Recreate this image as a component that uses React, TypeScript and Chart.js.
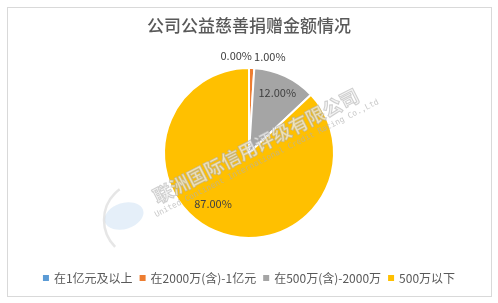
import React, { useEffect, useRef } from "react";
import { Chart, registerables } from "chart.js";

Chart.register(...registerables);

const title = "公司公益慈善捐赠金额情况";
const categories = ["在1亿元及以上", "在2000万(含)-1亿元", "在500万(含)-2000万", "500万以下"];
const values = [0, 1, 12, 87];
const colors = ["#5B9BD5", "#ED7D31", "#A5A5A5", "#FFC000"];
const watermarkCn = "联洲国际信用评级有限公司";
const watermarkEn = "United Continent International Credit Rating Co.,Ltd";

const W = 498;
const H = 303;
const FONT = "'Noto Sans CJK SC', 'Noto Sans', sans-serif";

const decorPlugin = {
  id: "decor",
  beforeDraw(chart: any) {
    const ctx = chart.ctx;
    ctx.save();
    ctx.fillStyle = "#ffffff";
    ctx.fillRect(0, 0, W, H);
    ctx.strokeStyle = "#d9d9d9";
    ctx.lineWidth = 1;
    ctx.strokeRect(7.5, 7.5, 484, 289);
    // title
    ctx.fillStyle = "#595959";
    ctx.font = `500 17px ${FONT}`;
    ctx.textAlign = "center";
    ctx.textBaseline = "middle";
    ctx.fillText(title, W / 2, 26);
    // legend
    ctx.font = `12px ${FONT}`;
    const box = 6, gap = 5, itemGap = 7;
    const widths = categories.map((c) => ctx.measureText(c).width);
    const total = widths.reduce((a, w) => a + box + gap + w, 0) + itemGap * (categories.length - 1);
    let x = W / 2 - total / 2;
    const ly = 278;
    ctx.textAlign = "left";
    categories.forEach((c, i) => {
      ctx.fillStyle = colors[i];
      ctx.fillRect(x, ly - box / 2, box, box);
      x += box + gap;
      ctx.fillStyle = "#595959";
      ctx.fillText(c, x, ly + 0.5);
      x += widths[i] + itemGap;
    });
    ctx.restore();
  },
  afterDatasetsDraw(chart: any) {
    const ctx = chart.ctx;
    const meta = chart.getDatasetMeta(0);
    ctx.save();
    ctx.font = `11px ${FONT}`;
    ctx.fillStyle = "#404040";
    ctx.textBaseline = "middle";
    meta.data.forEach((arc: any, i: number) => {
      const { x, y, startAngle, endAngle, outerRadius } = arc.getProps(
        ["x", "y", "startAngle", "endAngle", "outerRadius"],
        true
      );
      const mid = (startAngle + endAngle) / 2;
      const label = values[i].toFixed(2) + "%";
      if (i === 0 || i === 1) {
        const r = outerRadius + 12;
        const px = x + Math.cos(mid) * r;
        const py = y + Math.sin(mid) * r;
        if (i === 0) {
          ctx.textAlign = "right";
          ctx.fillText(label, px + 3, py);
        } else {
          ctx.textAlign = "left";
          ctx.fillText(label, px + 2, py + 1);
        }
      } else {
        const extra = i === 3 ? (12 * Math.PI) / 180 : 0;
        const rf = i === 3 ? 0.73 : 0.78;
        const a = mid + extra;
        ctx.textAlign = "center";
        ctx.fillText(label, x + Math.cos(a) * outerRadius * rf, y + Math.sin(a) * outerRadius * rf);
      }
    });
    ctx.restore();

    // watermark
    ctx.save();
    ctx.fillStyle = "rgba(180,208,238,0.35)";
    ctx.beginPath();
    ctx.ellipse(124, 216, 20, 13, -0.3, 0, Math.PI * 2);
    ctx.fill();
    ctx.strokeStyle = "rgba(210,210,210,0.55)";
    ctx.lineWidth = 2.5;
    ctx.beginPath();
    ctx.arc(142, 220, 38, Math.PI * 0.75, Math.PI * 1.3);
    ctx.stroke();
    ctx.translate(256, 146);
    ctx.rotate((-27 * Math.PI) / 180);
    ctx.textAlign = "center";
    ctx.textBaseline = "middle";
    ctx.font = `bold 19px ${FONT}`;
    ctx.lineWidth = 1;
    ctx.strokeStyle = "rgba(170,170,170,0.55)";
    ctx.fillStyle = "rgba(240,240,240,0.75)";
    ctx.fillText(watermarkCn, 0, 0);
    ctx.strokeText(watermarkCn, 0, 0);
    ctx.font = `8px 'DejaVu Sans Mono', monospace`;
    ctx.fillStyle = "rgba(175,175,175,0.7)";
    ctx.fillText(watermarkEn, 4, 16);
    ctx.restore();
  },
};

export default function App() {
  const ref = useRef<HTMLCanvasElement | null>(null);
  useEffect(() => {
    if (!ref.current) return;
    const chart = new Chart(ref.current, {
      type: "pie",
      data: {
        labels: categories,
        datasets: [
          {
            data: values,
            backgroundColor: colors,
            borderColor: "#ffffff",
            borderWidth: 2,
          },
        ],
      },
      options: {
        responsive: false,
        animation: false,
        devicePixelRatio: 1,
        layout: { padding: { top: 67, bottom: 64, left: 0, right: 0 } },
        plugins: {
          legend: { display: false },
          title: { display: false },
          tooltip: { enabled: false },
        },
      },
      plugins: [decorPlugin],
    });
    return () => chart.destroy();
  }, []);
  return (
    <div style={{ position: "absolute", left: 0, top: 0, width: W, height: H }}>
      <canvas ref={ref} width={W} height={H} style={{ width: W, height: H }} />
    </div>
  );
}
